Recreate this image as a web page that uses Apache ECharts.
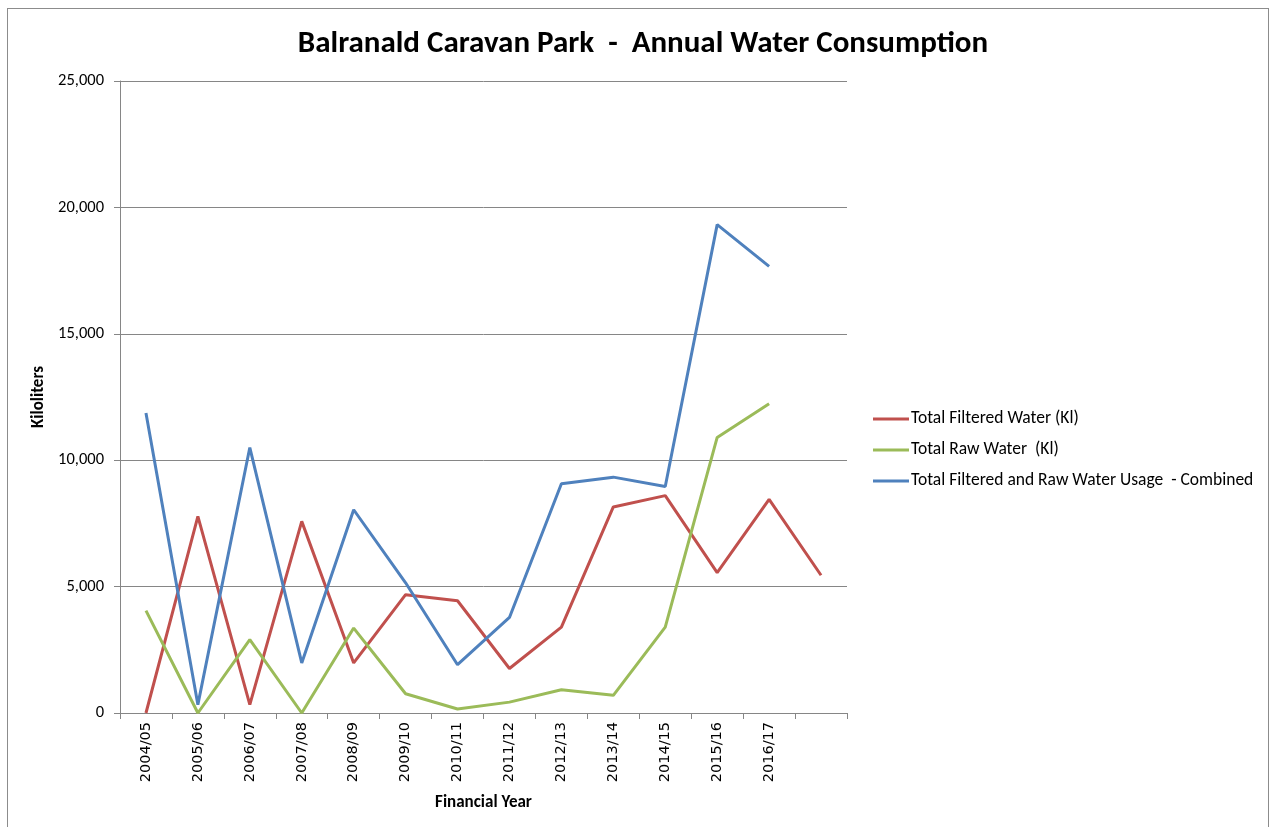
<!DOCTYPE html>
<html>
<head>
<meta charset="utf-8">
<title>Balranald Caravan Park - Annual Water Consumption</title>
<script src="https://cdn.jsdelivr.net/npm/echarts@6/dist/echarts.min.js"></script>
<style>
  html, body { margin: 0; padding: 0; background: #fff; overflow: hidden; }
  #frame {
    position: absolute; left: 7px; top: 8px; width: 1262px; height: 840px;
    border: 1px solid #8c8c8c; box-sizing: border-box;
  }
  #chart { position: absolute; left: 0; top: 0; width: 1272px; height: 827px; }
</style>
</head>
<body>
<div id="frame"></div>
<div id="chart"></div>
<script>
// financial years (last slot has no label, only filtered water)
const years = ['2004/05', '2005/06', '2006/07', '2007/08', '2008/09', '2009/10', '2010/11',
  '2011/12', '2012/13', '2013/14', '2014/15', '2015/16', '2016/17', ''];

const filteredWater = [0, 7780, 330, 7580, 1980, 4680, 4440, 1760, 3400, 8150, 8600, 5550, 8450, 5450];
const rawWater = [4050, 0, 2900, 0, 3360, 760, 160, 430, 920, 700, 3400, 10900, 12230, null];
const combinedWater = [11870, 330, 10500, 1980, 8040, 5150, 1910, 3780, 9070, 9330, 8960, 19320, 17670, null];

const yTicks = [0, 5000, 10000, 15000, 20000, 25000];

const chart = echarts.init(document.getElementById('chart'));

const font = 'Carlito, "Open Sans", "Liberation Sans", sans-serif';

const lineSeries = (name, data, color) => ({
  name: name,
  type: 'line',
  data: data,
  showSymbol: false,
  symbol: 'none',
  connectNulls: false,
  lineStyle: { color: color, width: 3 },
  itemStyle: { color: color },
  animation: false
});

chart.setOption({
  animation: false,
  textStyle: { fontFamily: font },
  title: {
    text: 'Balranald Caravan Park  -  Annual Water Consumption',
    left: 638,
    top: 24,
    textAlign: 'center',
    textStyle: { fontSize: 31, fontWeight: 'bold', color: '#000', fontFamily: font }
  },
  legend: {
    orient: 'vertical',
    left: 868,
    top: 405,
    itemWidth: 36,
    itemHeight: 14,
    itemGap: 13,
    icon: 'path://M0,6 L36,6 L36,9 L0,9 Z',
    textStyle: { fontSize: 17.5, color: '#000', fontFamily: font, padding: [0, 0, 0, -3] },
    data: ['Total Filtered Water (Kl)', 'Total Raw Water  (Kl)', 'Total Filtered and Raw Water Usage  - Combined']
  },
  grid: { left: 120, right: 425, top: 81, bottom: 114 },
  xAxis: {
    type: 'category',
    data: years,
    boundaryGap: true,
    name: 'Financial Year',
    nameLocation: 'middle',
    nameGap: 81,
    nameTextStyle: { fontSize: 17, fontWeight: 'bold', color: '#000', fontFamily: font },
    axisLine: { lineStyle: { color: '#868686', width: 1 } },
    axisTick: { show: true, alignWithLabel: false, length: 6, lineStyle: { color: '#868686' } },
    axisLabel: { rotate: 90, fontSize: 14.5, color: '#000', margin: 9, interval: 0, fontFamily: '"DejaVu Sans", sans-serif' }
  },
  yAxis: {
    type: 'value',
    min: yTicks[0],
    max: yTicks[yTicks.length - 1],
    interval: 5000,
    name: 'Kiloliters',
    nameLocation: 'middle',
    nameGap: 73,
    nameRotate: 90,
    nameTextStyle: { fontSize: 17, fontWeight: 'bold', color: '#000', fontFamily: font },
    axisLine: { show: true, lineStyle: { color: '#868686', width: 1 } },
    axisTick: { show: true, inside: false, length: 6, lineStyle: { color: '#868686' } },
    axisLabel: {
      fontSize: 16.5, color: '#000', margin: 16, fontFamily: font,
      formatter: v => v.toLocaleString('en-US')
    },
    splitLine: { show: true, lineStyle: { color: '#868686', width: 1 } }
  },
  series: [
    lineSeries('Total Filtered Water (Kl)', filteredWater, '#C0504D'),
    lineSeries('Total Raw Water  (Kl)', rawWater, '#9BBB59'),
    lineSeries('Total Filtered and Raw Water Usage  - Combined', combinedWater, '#4F81BD')
  ]
});
</script>
</body>
</html>
